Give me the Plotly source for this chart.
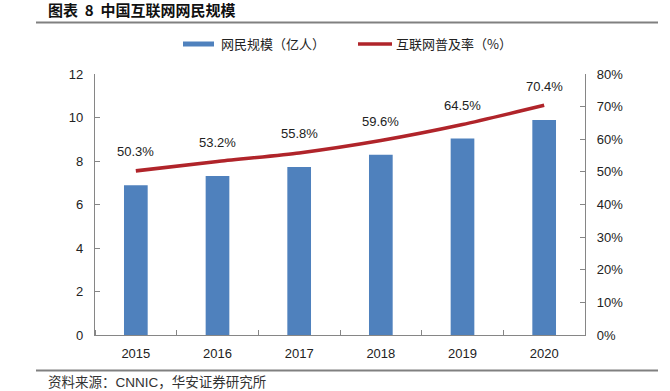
import plotly.graph_objects as go

years = ["2015", "2016", "2017", "2018", "2019", "2020"]
users = [6.88, 7.31, 7.72, 8.29, 9.04, 9.89]
penetration = [0.503, 0.532, 0.558, 0.596, 0.645, 0.704]
pen_labels = ["50.3%", "53.2%", "55.8%", "59.6%", "64.5%", "70.4%"]

BAR = "#4F81BD"
LINE = "#B0242A"
AX = "#868686"
TXT = "#222222"
CJK = "Noto Sans CJK SC"
LAT = "Liberation Sans, Arial"

xpos = list(range(len(years)))

fig = go.Figure()
fig.add_trace(go.Bar(x=xpos, y=users, marker=dict(color=BAR, line=dict(width=0)),
                     width=0.29, name="网民规模（亿人）", yaxis="y", showlegend=False))
fig.add_trace(go.Scatter(x=xpos, y=penetration, mode="lines",
                         line=dict(color=LINE, width=3.6, shape="spline", smoothing=0.6),
                         name="互联网普及率（%）", yaxis="y2", showlegend=False))

W, H = 670, 391
ML, MR, MT, MB = 95, 85, 74, 56
pw, ph = W - ML - MR, H - MT - MB
def px(x):
    return (x - ML) / pw
def py(y):
    return 1 - (y - MT) / ph

annotations = []
for x, y, t in zip(xpos, penetration, pen_labels):
    annotations.append(dict(x=x, y=y, xref="x", yref="y2", text=t, showarrow=False,
                            yshift=19, font=dict(family=LAT, size=13, color=TXT)))

def pa(x, y, text, size, color, family=CJK):
    return dict(x=px(x), y=py(y), xref="paper", yref="paper", text=text, showarrow=False,
                xanchor="left", yanchor="middle", font=dict(family=family, size=size, color=color))

annotations += [
    pa(46, 9, "<b>图表  8  中国互联网网民规模</b>", 15, "#111"),
    pa(219, 44, "网民规模（亿人）", 13, TXT),
    pa(394, 44, "互联网普及率（%）", 13, TXT),
    pa(46, 381, "资料来源：<span style='font-family:Liberation Sans'>CNNIC</span>，华安证券研究所", 13.5, "#333"),
]

shapes = [
    dict(type="line", xref="paper", yref="paper", x0=px(36), x1=px(658), y0=py(22.5), y1=py(22.5),
         line=dict(color="#808080", width=2), layer="above"),
    dict(type="line", xref="paper", yref="paper", x0=px(36), x1=px(658), y0=py(370.5), y1=py(370.5),
         line=dict(color="#808080", width=2), layer="above"),
    dict(type="rect", xref="paper", yref="paper", x0=px(183), x1=px(214), y0=py(46.5), y1=py(41.5),
         fillcolor=BAR, line=dict(width=0)),
    dict(type="line", xref="paper", yref="paper", x0=px(358), x1=px(392), y0=py(44), y1=py(44),
         line=dict(color=LINE, width=3.5)),
]

fig.update_layout(
    width=W, height=H, margin=dict(l=ML, r=MR, t=MT, b=MB, autoexpand=False),
    paper_bgcolor="white", plot_bgcolor="white",
    title=dict(text=""),
    xaxis=dict(range=[-0.5, len(years) - 0.5], tickvals=xpos, ticktext=years, ticks="",
               showline=True, linecolor=AX, linewidth=1.3, ticklabelstandoff=6,
               minor=dict(tick0=-0.5, dtick=1, ticks="inside", ticklen=5, tickcolor=AX, showgrid=False),
               tickfont=dict(family=LAT, size=13, color=TXT), showgrid=False, zeroline=False,
               fixedrange=True),
    yaxis=dict(range=[0, 12], dtick=2, showline=True, linecolor=AX, linewidth=1.3,
               ticks="inside", ticklen=5, tickcolor=AX, showgrid=False, zeroline=False,
               tickfont=dict(family=LAT, size=13, color=TXT), ticklabelstandoff=8),
    yaxis2=dict(range=[0, 0.8], dtick=0.1, tickformat=".0%", overlaying="y", side="right",
                showline=True, linecolor=AX, linewidth=1.3, ticks="inside", ticklen=5, tickcolor=AX,
                showgrid=False, zeroline=False,
                tickfont=dict(family=LAT, size=13, color=TXT), ticklabelstandoff=8),
    annotations=annotations, shapes=shapes, showlegend=False,
)

fig.write_html("out.html", config={"displayModeBar": False},
               post_script="document.body.style.margin='0';")
